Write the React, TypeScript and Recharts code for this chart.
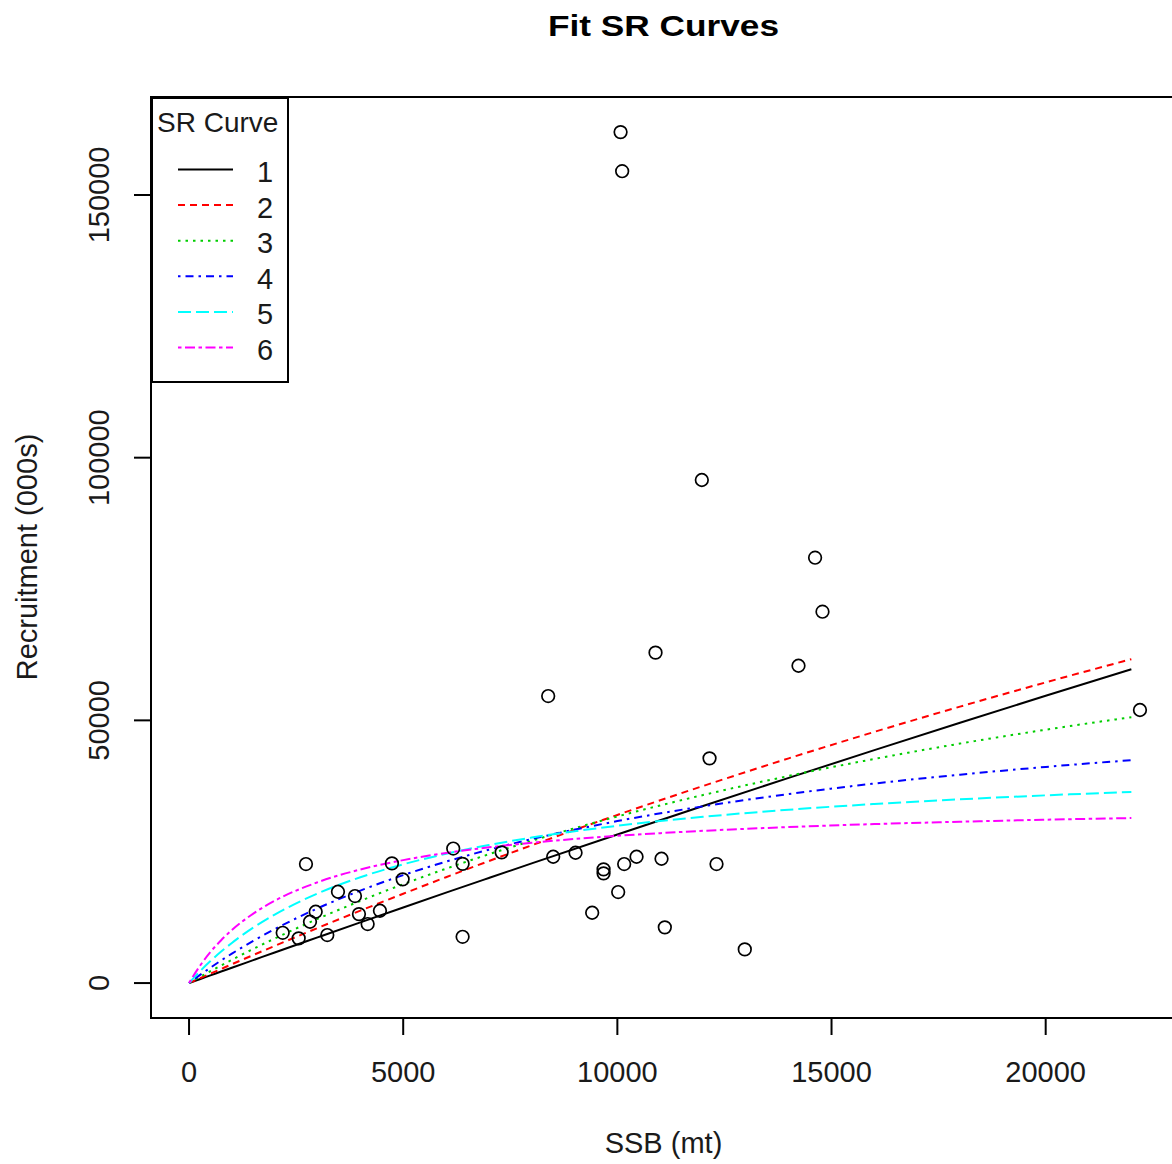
import React from 'react';
import { ComposedChart, Line, Scatter, XAxis, YAxis, ReferenceArea, Legend } from 'recharts';

// SSB grid the fitted curves were read at
const curveSSB = [0, 100, 250, 500, 750, 1000, 1500, 2000, 3000, 4000, 5000, 6000, 7000, 8000, 10000, 12000, 14000, 16000, 18000, 20000, 22000];

// fitted recruitment, one list per SR curve
const curve1 = [0, 290, 730, 1460, 2190, 2920, 4370, 5820, 8690, 11550, 14390, 17210, 20000, 22780, 28280, 33700, 39050, 44330, 49540, 54680, 59740];
const curve2 = [0, 360, 900, 1800, 2690, 3580, 5340, 7070, 10470, 13780, 17000, 20150, 23220, 26220, 32000, 37510, 42770, 47810, 52620, 57230, 61650];
const curve3 = [0, 460, 1150, 2260, 3360, 4430, 6500, 8480, 12210, 15640, 18820, 21770, 24520, 27070, 31710, 35790, 39420, 42660, 45580, 48220, 50610];
const curve4 = [0, 610, 1500, 2930, 4300, 5600, 8030, 10260, 14220, 17600, 20540, 23110, 25380, 27400, 30830, 33640, 35980, 37970, 39670, 41140, 42430];
const curve5 = [0, 900, 2190, 4180, 5990, 7640, 10550, 13030, 17040, 20140, 22600, 24610, 26280, 27690, 29930, 31640, 32990, 34080, 34970, 35730, 36370];
const curve6 = [0, 1360, 3220, 5900, 8160, 10090, 13220, 15660, 19180, 21620, 23400, 24760, 25830, 26700, 28020, 28970, 29690, 30260, 30710, 31090, 31400];

// observed points
const obsSSB = [10075, 10112, 11972, 14616, 14789, 10891, 14229, 8385, 12152, 22201, 2730, 6168, 6387, 4737, 4987, 3477, 3874, 2957, 2824, 3967, 4457, 4170, 2187, 2560, 3228, 6387, 7298, 8502, 9024, 9678, 9678, 10159, 10448, 11031, 12315, 10019, 9412, 11108, 12975];
const obsRec = [161970, 154530, 95750, 80960, 70680, 62890, 60400, 54630, 42770, 51970, 22650, 25600, 22690, 22780, 19740, 17380, 16560, 13570, 11670, 13130, 13760, 11230, 9570, 8510, 9140, 8810, 24880, 24040, 24800, 21640, 20880, 22650, 24040, 23660, 22650, 17320, 13380, 10600, 6410];

const curveNames = ['1', '2', '3', '4', '5', '6'];
const xTicks = [0, 5000, 10000, 15000, 20000];
const yTicks = [0, 50000, 100000, 150000];

const X_DOMAIN: [number, number] = [-888, 23089];
const Y_DOMAIN: [number, number] = [-6650, 168650];

// R palette + lty 1..6
const curveStyle = [
  { color: '#000000', dash: undefined as string | undefined },
  { color: '#FF0000', dash: '7 5' },
  { color: '#00CD00', dash: '2.5 5' },
  { color: '#0000FF', dash: '2.5 5 8 5' },
  { color: '#00FFFF', dash: '13 5' },
  { color: '#FF00FF', dash: '3.5 3.5 10 3.5' },
];

const allCurves = [curve1, curve2, curve3, curve4, curve5, curve6];
const curveData = curveSSB.map((ssb, i) => {
  const row: Record<string, number> = { ssb };
  allCurves.forEach((c, k) => { row['c' + (k + 1)] = c[i]; });
  return row;
});
const obsData = obsSSB.map((ssb, i) => ({ ssb, rec: obsRec[i] }));

const FONT = '"Liberation Sans", Arial, sans-serif';
const INK = '#1a1a1a';

const XTick = (props: any) => {
  const { x, y, payload } = props;
  return (
    <text x={x} y={y + 47} textAnchor="middle" fontSize={29} fontFamily={FONT} fill={INK}>
      {payload.value}
    </text>
  );
};

const YTick = (props: any) => {
  const { x, y, payload } = props;
  return (
    <text transform={`translate(${x - 25},${y}) rotate(-90)`} textAnchor="middle" fontSize={29} fontFamily={FONT} fill={INK}>
      {payload.value}
    </text>
  );
};

const OpenCircle = (props: any) => (
  <circle cx={props.cx} cy={props.cy} r={6.3} fill="none" stroke="#000" strokeWidth={1.7} />
);

const SRLegend = () => (
  <svg width={138} height={286} style={{ display: 'block' }}>
    <rect x={1} y={1} width={136} height={284} fill="#fff" stroke="#000" strokeWidth={2} />
    <text x={6} y={35} fontSize={28} fontFamily={FONT} fill={INK}>SR Curve</text>
    {curveNames.map((name, i) => {
      const yy = 72.5 + i * 35.6;
      return (
        <g key={name}>
          <line x1={27} x2={82} y1={yy} y2={yy} stroke={curveStyle[i].color} strokeWidth={2} strokeDasharray={curveStyle[i].dash} />
          <text x={114} y={yy + 12.5} textAnchor="middle" fontSize={29} fontFamily={FONT} fill={INK}>{name}</text>
        </g>
      );
    })}
  </svg>
);

export default function App() {
  return (
    <div style={{ position: 'absolute', left: 0, top: 0, width: 1172, height: 1164, overflow: 'hidden', background: '#fff' }}>
      <ComposedChart width={1180} height={1164} data={curveData} margin={{ top: 97, right: 2, bottom: 0, left: 0 }}>
        <XAxis
          type="number"
          dataKey="ssb"
          domain={X_DOMAIN}
          ticks={xTicks}
          allowDataOverflow
          height={146}
          tickSize={17}
          tickMargin={0}
          axisLine={false}
          tickLine={{ stroke: '#000', strokeWidth: 2 }}
          tick={<XTick />}
        />
        <YAxis
          type="number"
          domain={Y_DOMAIN}
          ticks={yTicks}
          allowDataOverflow
          width={151}
          tickSize={17}
          tickMargin={0}
          axisLine={false}
          tickLine={{ stroke: '#000', strokeWidth: 2 }}
          tick={<YTick />}
        />
        <ReferenceArea x1={X_DOMAIN[0]} x2={X_DOMAIN[1]} y1={Y_DOMAIN[0]} y2={Y_DOMAIN[1]} fill="none" stroke="#000" strokeWidth={2} fillOpacity={0} />
        {curveNames.map((name, i) => (
          <Line
            key={name}
            name={name}
            type="monotone"
            dataKey={'c' + (i + 1)}
            stroke={curveStyle[i].color}
            strokeWidth={2}
            strokeDasharray={curveStyle[i].dash}
            dot={false}
            activeDot={false}
            isAnimationActive={false}
          />
        ))}
        <Scatter data={obsData} dataKey="rec" shape={<OpenCircle />} isAnimationActive={false} />
        <Legend
          layout="vertical"
          align="center"
          verticalAlign="middle"
          wrapperStyle={{ left: 151, top: 97, width: 138, height: 286 }}
          content={<SRLegend />}
        />
        <text x={663.5} y={36} textAnchor="middle" fontSize={30} fontWeight="bold" fontFamily={FONT} fill="#000" textLength={231} lengthAdjust="spacingAndGlyphs">
          Fit SR Curves
        </text>
        <text x={663.5} y={1153} textAnchor="middle" fontSize={29} fontFamily={FONT} fill={INK}>
          SSB (mt)
        </text>
        <text transform="translate(37,557) rotate(-90)" textAnchor="middle" fontSize={29} fontFamily={FONT} fill={INK}>
          Recruitment (000s)
        </text>
      </ComposedChart>
    </div>
  );
}
